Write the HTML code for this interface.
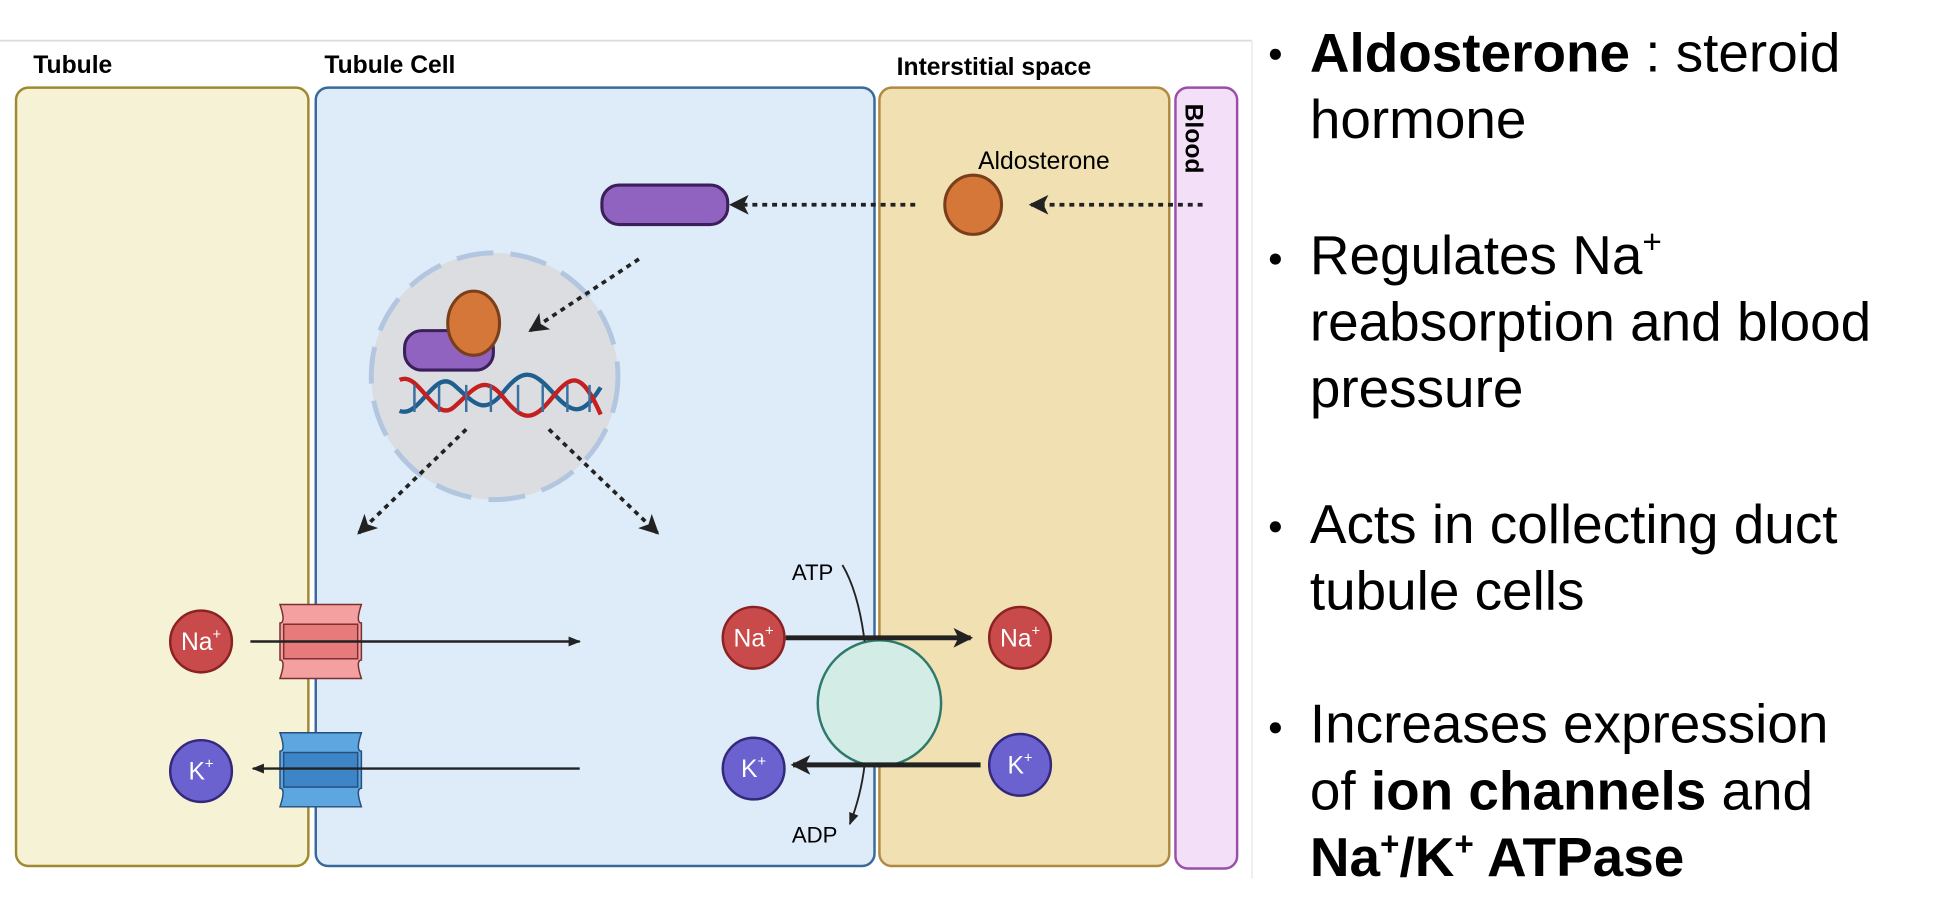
<!DOCTYPE html>
<html><head><meta charset="utf-8"><style>
html,body{margin:0;padding:0;background:#fff;width:1934px;height:924px;overflow:hidden}
svg{display:block}
text{font-family:"Liberation Sans",Arial,sans-serif}
</style></head><body>
<svg width="1934" height="924" viewBox="0 0 1568 749" preserveAspectRatio="none" xmlns="http://www.w3.org/2000/svg">
<defs>
<marker id="ah" markerWidth="10" markerHeight="10" refX="8" refY="5" orient="auto" markerUnits="userSpaceOnUse"><path d="M0,0 L10,5 L0,10 L3,5z" fill="#222"/></marker>
<marker id="ahb" markerWidth="16" markerHeight="16" refX="14" refY="8" orient="auto" markerUnits="userSpaceOnUse"><path d="M0,0 L16,8 L0,16 L4,8z" fill="#222"/></marker>
<marker id="ahs" markerWidth="10" markerHeight="10" refX="9" refY="5" orient="auto" markerUnits="userSpaceOnUse"><path d="M0,1 L10,5 L0,9z" fill="#222"/></marker>
</defs>
<line x1="0" y1="33" x2="1015" y2="33" stroke="#ddd" stroke-width="1.5"/>
<line x1="1015" y1="33" x2="1015" y2="712" stroke="#eee" stroke-width="1.5"/>
<text x="27" y="59" font-size="20" font-weight="bold">Tubule</text>
<text x="263" y="59" font-size="20" font-weight="bold">Tubule Cell</text>
<text x="727" y="61" font-size="20" font-weight="bold">Interstitial space</text>
<rect x="13" y="71" width="237" height="631" rx="10" fill="#f5f2d5" stroke="#a08a30" stroke-width="2"/>
<rect x="256" y="71" width="453" height="631" rx="10" fill="#deebf8" stroke="#3a6a9a" stroke-width="2"/>
<rect x="713" y="71" width="235" height="631" rx="10" fill="#f0e0b2" stroke="#b08a40" stroke-width="2"/>
<rect x="953" y="71" width="50" height="633" rx="10" fill="#f3e0f8" stroke="#9a50a8" stroke-width="2"/>
<text transform="translate(961,84) rotate(90)" font-size="20" font-weight="bold">Blood</text>
<text x="793" y="137" font-size="20">Aldosterone</text>
<ellipse cx="789" cy="166" rx="23" ry="24" fill="#d57738" stroke="#7a3f1a" stroke-width="2.5"/>
<line x1="975" y1="166" x2="836" y2="166" stroke="#222" stroke-width="3" stroke-dasharray="4,4" marker-end="url(#ahb)"/>
<line x1="742" y1="166" x2="593" y2="166" stroke="#222" stroke-width="3" stroke-dasharray="4,4" marker-end="url(#ahb)"/>
<rect x="488" y="150" width="102" height="32" rx="14" fill="#9163c1" stroke="#3a1f5a" stroke-width="2.5"/>
<ellipse cx="401" cy="305" rx="100" ry="100" fill="#dcdde0" stroke="#b3c6e0" stroke-width="4" stroke-dasharray="30,14"/>
<rect x="328" y="268" width="72" height="32" rx="14" fill="#9163c1" stroke="#3a1f5a" stroke-width="2.5"/>
<ellipse cx="384" cy="262" rx="21" ry="26" fill="#d57738" stroke="#7a3f1a" stroke-width="2.5"/>
<g fill="none" stroke-width="3.5">
<path d="M324,333 C340,340 352,298 368,312 S392,338 408,318 S432,300 448,318 S472,338 487,314" stroke="#1f5f8f"/>
<path d="M324,308 C340,300 352,344 368,330 S392,302 408,322 S432,342 448,322 S472,302 487,336" stroke="#c42020"/>
<g stroke-width="2" stroke="#3a6f9f"><line x1="336" y1="312" x2="336" y2="334"/><line x1="356" y1="312" x2="356" y2="334"/><line x1="378" y1="312" x2="378" y2="334"/><line x1="398" y1="312" x2="398" y2="334"/><line x1="420" y1="312" x2="420" y2="334"/><line x1="440" y1="312" x2="440" y2="334"/><line x1="460" y1="312" x2="460" y2="334"/><line x1="478" y1="312" x2="478" y2="334"/></g>
</g>
<line x1="518" y1="210" x2="430" y2="268" stroke="#222" stroke-width="3" stroke-dasharray="4,4" marker-end="url(#ahb)"/>
<line x1="378" y1="348" x2="291" y2="432" stroke="#222" stroke-width="3" stroke-dasharray="4,4" marker-end="url(#ahb)"/>
<line x1="445" y1="348" x2="533" y2="432" stroke="#222" stroke-width="3" stroke-dasharray="4,4" marker-end="url(#ahb)"/>
<g stroke="#7a3030" stroke-width="1.2"><path d="M227,490 h66 q-5,15 0,15 v30 q-5,0 0,15 h-66 q5,-15 0,-15 v-30 q5,0 0,-15z" fill="#f4a0a0"/><rect x="230" y="506" width="60" height="28" fill="#e77b7b"/></g>
<g stroke="#254f7f" stroke-width="1.2"><path d="M227,594 h66 q-5,15 0,15 v30 q-5,0 0,15 h-66 q5,-15 0,-15 v-30 q5,0 0,-15z" fill="#5ea6e0"/><rect x="230" y="610" width="60" height="28" fill="#3d85c6"/></g>
<line x1="203" y1="520" x2="470" y2="520" stroke="#222" stroke-width="2" marker-end="url(#ahs)"/>
<line x1="470" y1="623" x2="205" y2="623" stroke="#222" stroke-width="2" marker-end="url(#ahs)"/>
<g font-size="20" fill="#fff" text-anchor="middle">
<circle cx="163" cy="520" r="25" fill="#c94a4a" stroke="#8a2222" stroke-width="2"/><text x="163" y="527">Na<tspan font-size="12" dy="-9">+</tspan></text>
<circle cx="163" cy="625" r="25" fill="#6b62d0" stroke="#33287a" stroke-width="2"/><text x="163" y="632">K<tspan font-size="12" dy="-9">+</tspan></text>
<circle cx="611" cy="517" r="25" fill="#c94a4a" stroke="#8a2222" stroke-width="2"/><text x="611" y="524">Na<tspan font-size="12" dy="-9">+</tspan></text>
<circle cx="827" cy="517" r="25" fill="#c94a4a" stroke="#8a2222" stroke-width="2"/><text x="827" y="524">Na<tspan font-size="12" dy="-9">+</tspan></text>
<circle cx="611" cy="623" r="25" fill="#6b62d0" stroke="#33287a" stroke-width="2"/><text x="611" y="630">K<tspan font-size="12" dy="-9">+</tspan></text>
<circle cx="827" cy="620" r="25" fill="#6b62d0" stroke="#33287a" stroke-width="2"/><text x="827" y="627">K<tspan font-size="12" dy="-9">+</tspan></text>
</g>
<ellipse cx="713" cy="570" rx="50" ry="51" fill="#d3ece6" stroke="#2e7a6a" stroke-width="2"/>
<line x1="637" y1="517" x2="787" y2="517" stroke="#222" stroke-width="4" marker-end="url(#ahb)"/>
<line x1="795" y1="620" x2="643" y2="620" stroke="#222" stroke-width="4" marker-end="url(#ahb)"/>
<text x="642" y="470" font-size="18">ATP</text>
<path d="M683,458 Q696,480 701,520" fill="none" stroke="#222" stroke-width="1.5"/>
<text x="642" y="683" font-size="18">ADP</text>
<path d="M701,620 Q698,645 689,668" fill="none" stroke="#222" stroke-width="1.5" marker-end="url(#ahs)"/>
<g font-size="44.5" fill="#000">
<circle cx="1034" cy="44" r="4.5"/><text x="1062" y="58"><tspan font-weight="bold">Aldosterone</tspan> : steroid</text>
<text x="1062" y="112">hormone</text>
<circle cx="1034" cy="210" r="4.5"/><text x="1062" y="222">Regulates Na<tspan font-size="27" dy="-17">+</tspan></text>
<text x="1062" y="276">reabsorption and blood</text>
<text x="1062" y="330">pressure</text>
<circle cx="1034" cy="427" r="4.5"/><text x="1062" y="440">Acts in collecting duct</text>
<text x="1062" y="494">tubule cells</text>
<circle cx="1034" cy="590" r="4.5"/><text x="1062" y="602">Increases expression</text>
<text x="1062" y="656">of <tspan font-weight="bold">ion channels</tspan> and</text>
<text x="1062" y="710" font-weight="bold">Na<tspan font-size="27" dy="-17">+</tspan><tspan dy="17">/K</tspan><tspan font-size="27" dy="-17">+</tspan><tspan dy="17"> ATPase</tspan></text>
</g>
</svg>
</body></html>
